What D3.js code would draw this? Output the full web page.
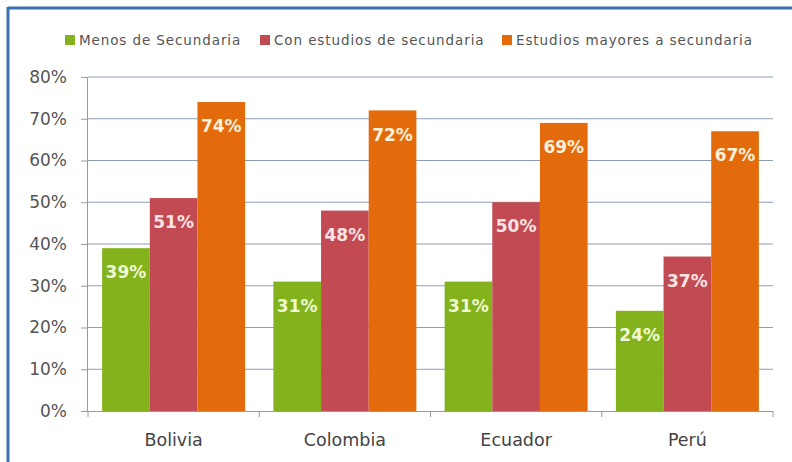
<!DOCTYPE html>
<html>
<head>
<meta charset="utf-8">
<script src="https://cdn.jsdelivr.net/npm/d3@7"></script>
<style>
  html, body { margin: 0; padding: 0; background: #ffffff; }
  svg { display: block; }
</style>
</head>
<body>
<svg id="chart" width="792" height="462"></svg>
<script>
const categories = ["Bolivia", "Colombia", "Ecuador", "Perú"];
const seriesNames = ["Menos de Secundaria", "Con estudios de secundaria", "Estudios mayores a secundaria"];
const menosSecundaria = [39, 31, 31, 24];
const conSecundaria = [51, 48, 50, 37];
const mayoresSecundaria = [74, 72, 69, 67];
const yTicks = [0, 10, 20, 30, 40, 50, 60, 70, 80];

const seriesValues = [menosSecundaria, conSecundaria, mayoresSecundaria];
const colors = ["#84b21c", "#c24b53", "#e36b0b"];
const labelColors = ["#eef8d2", "#fbe3e3", "#fff0dc"];

const svg = d3.select("#chart");
const plotL = 88, plotR = 773, plotT = 77, plotB = 411;

// frame lines (top & left)
svg.append("line").attr("x1", 8).attr("x2", 792).attr("y1", 8).attr("y2", 8)
  .attr("stroke", "#3a72ad").attr("stroke-width", 3);
svg.append("line").attr("x1", 8).attr("x2", 8).attr("y1", 7).attr("y2", 462)
  .attr("stroke", "#3a72ad").attr("stroke-width", 3);

const x0 = d3.scaleBand().domain(categories).range([plotL, plotR]).paddingInner(0.165).paddingOuter(0.0825);
const x1 = d3.scaleBand().domain(d3.range(seriesNames.length)).range([0, x0.bandwidth()]);
const y = d3.scaleLinear().domain([0, 80]).range([plotB, plotT]);

// gridlines
svg.append("g").selectAll("line").data(yTicks.filter(d => d > 0)).join("line")
  .attr("x1", plotL).attr("x2", plotR)
  .attr("y1", d => y(d)).attr("y2", d => y(d))
  .attr("stroke", "#8d9db6").attr("stroke-width", 1.2);

// y axis
const yAxis = svg.append("g").attr("transform", `translate(${plotL},0)`)
  .call(d3.axisLeft(y).tickValues(yTicks).tickFormat(d => d + "%").tickSize(7).tickPadding(14));
yAxis.select(".domain").attr("stroke", "#9a9a9a").attr("d", `M-0.5,${plotT}V${plotB}`);
yAxis.selectAll(".tick line").attr("stroke", "#9a9a9a");
yAxis.selectAll("text").attr("fill", "#555").attr("font-family", "DejaVu Sans").attr("font-size", 17);

// bars
const groups = svg.append("g").selectAll("g").data(categories).join("g")
  .attr("transform", d => `translate(${x0(d)},0)`);

groups.each(function(cat, ci) {
  const g = d3.select(this);
  seriesValues.forEach((vals, si) => {
    const v = vals[ci];
    g.append("rect")
      .attr("x", x1(si)).attr("width", x1.bandwidth())
      .attr("y", y(v)).attr("height", y(0) - y(v))
      .attr("fill", colors[si]);
    g.append("text")
      .attr("x", x1(si) + x1.bandwidth() / 2)
      .attr("y", y(v) + 24)
      .attr("dy", "0.36em")
      .attr("text-anchor", "middle")
      .attr("font-family", "DejaVu Sans").attr("font-weight", "bold").attr("font-size", 17)
      .attr("fill", labelColors[si])
      .text(v + "%");
  });
});

// x axis
const xAxis = svg.append("g").attr("transform", `translate(0,${plotB})`);
xAxis.append("line").attr("x1", plotL).attr("x2", plotR).attr("y1", 0.5).attr("y2", 0.5).attr("stroke", "#9a9a9a");
const bounds = categories.map(c => x0(c) - x0.step() * x0.paddingInner() / 2).concat([plotR]);
xAxis.selectAll("line.tk").data(bounds).join("line").attr("class", "tk")
  .attr("x1", d => d).attr("x2", d => d).attr("y1", 0).attr("y2", 6).attr("stroke", "#9a9a9a");
xAxis.selectAll("text").data(categories).join("text")
  .attr("x", d => x0(d) + x0.bandwidth() / 2)
  .attr("y", 29).attr("dy", "0.36em")
  .attr("text-anchor", "middle")
  .attr("font-family", "DejaVu Sans").attr("font-size", 17.5).attr("fill", "#444")
  .text(d => d);

// legend
const legendX = [65, 260, 502];
const legend = svg.append("g").selectAll("g").data(seriesNames).join("g")
  .attr("transform", (d, i) => `translate(${legendX[i]},40)`);
legend.append("rect").attr("x", 0).attr("y", -5).attr("width", 10).attr("height", 10)
  .attr("fill", (d, i) => colors[i]);
legend.append("text").attr("x", 14).attr("dy", "0.36em")
  .attr("font-family", "DejaVu Sans").attr("font-size", 13.5).attr("fill", "#555")
  .attr("letter-spacing", 0.9)
  .text(d => d);
</script>
</body>
</html>
